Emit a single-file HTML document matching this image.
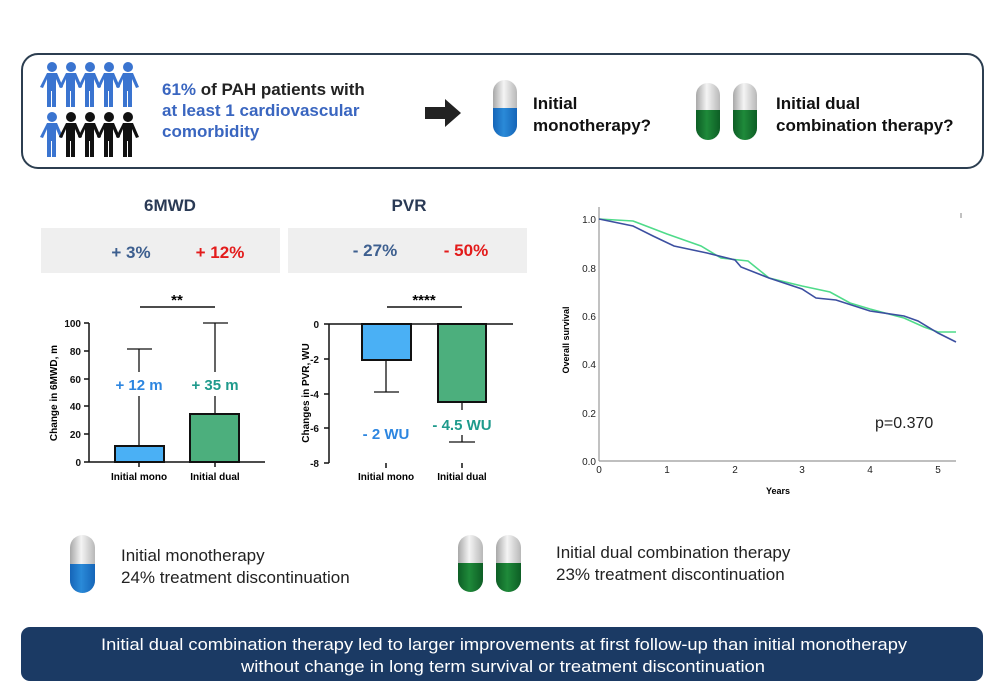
<!DOCTYPE html>
<html><head><meta charset="utf-8"><style>
html,body{margin:0;padding:0;background:#fff}
svg{display:block;font-family:"Liberation Sans",Arial,sans-serif}
</style></head><body>
<svg width="1000" height="695" viewBox="0 0 1000 695" xmlns="http://www.w3.org/2000/svg">
<defs>
<linearGradient id="gw" x1="0" x2="1"><stop offset="0" stop-color="#a8a8a8"/><stop offset="0.45" stop-color="#f4f4f4"/><stop offset="1" stop-color="#b8b8b8"/></linearGradient>
<linearGradient id="gb" x1="0" x2="1"><stop offset="0" stop-color="#1565b8"/><stop offset="0.45" stop-color="#2a8ad8"/><stop offset="1" stop-color="#1565b8"/></linearGradient>
<linearGradient id="gg" x1="0" x2="1"><stop offset="0" stop-color="#0d5e25"/><stop offset="0.45" stop-color="#1f8a3a"/><stop offset="1" stop-color="#0d5e25"/></linearGradient>
<g id="person"><circle cx="0" cy="0" r="5"/><path d="M-5,6 h10 l6,14 l-3,1 l-4,-9 v28 h-4 v-16 h-1 v16 h-4 v-28 l-4,9 l-3,-1 z"/></g>
</defs>
<!-- top box -->
<rect x="22" y="54" width="961" height="114" rx="16" fill="#fff" stroke="#2c3e50" stroke-width="2"/>
<g fill="#3a74d0">
<use href="#person" x="52" y="67"/><use href="#person" x="71" y="67"/><use href="#person" x="90" y="67"/><use href="#person" x="109" y="67"/><use href="#person" x="128" y="67"/>
<use href="#person" x="52" y="117"/>
</g>
<g fill="#111">
<use href="#person" x="71" y="117"/><use href="#person" x="90" y="117"/><use href="#person" x="109" y="117"/><use href="#person" x="128" y="117"/>
</g>
<g font-size="17" font-weight="bold">
<text x="162" y="95" fill="#3a66c0">61% <tspan fill="#222">of PAH patients with</tspan></text>
<text x="162" y="116" fill="#3a66c0">at least 1 cardiovascular</text>
<text x="162" y="137" fill="#3a66c0">comorbidity</text>
<text x="533" y="109" fill="#111">Initial</text>
<text x="533" y="131" fill="#111">monotherapy?</text>
<text x="776" y="109" fill="#111">Initial dual</text>
<text x="776" y="131" fill="#111">combination therapy?</text>
</g>
<path d="M425,107 h20 v-8 l16,14 l-16,14 v-8 h-20 z" fill="#222"/>
<!-- pills top -->
<g>
<rect x="493" y="80" width="24" height="57" rx="12" fill="url(#gw)"/><path d="M493,108 h24 v17 a12,12 0 0 1 -24,0 z" fill="url(#gb)"/>
<rect x="696" y="83" width="24" height="57" rx="12" fill="url(#gw)"/><path d="M696,110 h24 v18 a12,12 0 0 1 -24,0 z" fill="url(#gg)"/>
<rect x="733" y="83" width="24" height="57" rx="12" fill="url(#gw)"/><path d="M733,110 h24 v18 a12,12 0 0 1 -24,0 z" fill="url(#gg)"/>
</g>
<!-- headers -->
<text x="170" y="211" font-size="17" font-weight="bold" fill="#2a3a55" text-anchor="middle">6MWD</text>
<text x="409" y="211" font-size="17" font-weight="bold" fill="#2a3a55" text-anchor="middle">PVR</text>
<rect x="41" y="228" width="239" height="45" fill="#efefef"/>
<rect x="288" y="228" width="239" height="45" fill="#efefef"/>
<g font-size="17" font-weight="bold" text-anchor="middle">
<text x="131" y="258" fill="#3d5f8f">+ 3%</text><text x="220" y="258" fill="#e31b1b">+ 12%</text>
<text x="375" y="256" fill="#3d5f8f">- 27%</text><text x="466" y="256" fill="#e31b1b">- 50%</text>
</g>
<!-- chart 1 -->
<g stroke="#111" stroke-width="1.3" fill="none">
<line x1="139" y1="446" x2="139" y2="349"/><line x1="127" y1="349" x2="152" y2="349"/>
<line x1="215" y1="414" x2="215" y2="323"/><line x1="203" y1="323" x2="228" y2="323"/>
</g>
<rect x="115" y="446" width="49" height="16" fill="#4ab0f5" stroke="#111" stroke-width="2"/>
<rect x="190" y="414" width="49" height="48" fill="#4caf7d" stroke="#111" stroke-width="2"/>
<rect x="100" y="372" width="80" height="24" fill="#fff"/><rect x="180" y="372" width="75" height="24" fill="#fff"/>
<text x="139" y="390" font-size="15" font-weight="bold" fill="#2d86e0" text-anchor="middle">+ 12 m</text>
<text x="215" y="390" font-size="15" font-weight="bold" fill="#1f9a8c" text-anchor="middle">+ 35 m</text>
<g stroke="#111" stroke-width="1.5">
<line x1="89" y1="323" x2="89" y2="462"/><line x1="89" y1="462" x2="265" y2="462"/>
<line x1="84" y1="323" x2="89" y2="323"/><line x1="84" y1="351" x2="89" y2="351"/><line x1="84" y1="379" x2="89" y2="379"/><line x1="84" y1="406" x2="89" y2="406"/><line x1="84" y1="434" x2="89" y2="434"/><line x1="84" y1="462" x2="89" y2="462"/>
<line x1="139" y1="462" x2="139" y2="467"/><line x1="215" y1="462" x2="215" y2="467"/>
<line x1="140" y1="307" x2="215" y2="307"/>
</g>
<g font-size="10" font-weight="bold" fill="#111" text-anchor="end">
<text x="81" y="327">100</text><text x="81" y="355">80</text><text x="81" y="383">60</text><text x="81" y="410">40</text><text x="81" y="438">20</text><text x="81" y="466">0</text>
</g>
<text x="177" y="305" font-size="15" font-weight="bold" text-anchor="middle">**</text>
<g font-size="10" font-weight="bold" text-anchor="middle"><text x="139" y="480">Initial mono</text><text x="215" y="480">Initial dual</text></g>
<text transform="translate(57,393) rotate(-90)" font-size="10" font-weight="bold" text-anchor="middle">Change in 6MWD, m</text>
<!-- chart 2 -->
<g stroke="#111" stroke-width="1.3" fill="none">
<line x1="386" y1="360" x2="386" y2="392"/><line x1="374" y1="392" x2="399" y2="392"/>
<line x1="462" y1="402" x2="462" y2="410"/><line x1="462" y1="435" x2="462" y2="442"/><line x1="449" y1="442" x2="475" y2="442"/>
</g>
<rect x="362" y="324" width="49" height="36" fill="#4ab0f5" stroke="#111" stroke-width="2"/>
<rect x="438" y="324" width="48" height="78" fill="#4caf7d" stroke="#111" stroke-width="2"/>
<text x="386" y="439" font-size="15" font-weight="bold" fill="#2d86e0" text-anchor="middle">- 2 WU</text>
<text x="462" y="430" font-size="15" font-weight="bold" fill="#1f9a8c" text-anchor="middle">- 4.5 WU</text>
<g stroke="#111" stroke-width="1.5">
<line x1="329" y1="324" x2="329" y2="463"/><line x1="329" y1="324" x2="513" y2="324"/>
<line x1="324" y1="324" x2="329" y2="324"/><line x1="324" y1="359" x2="329" y2="359"/><line x1="324" y1="394" x2="329" y2="394"/><line x1="324" y1="428" x2="329" y2="428"/><line x1="324" y1="463" x2="329" y2="463"/>
<line x1="386" y1="463" x2="386" y2="468"/><line x1="462" y1="463" x2="462" y2="468"/>
<line x1="387" y1="307" x2="462" y2="307"/>
</g>
<g font-size="10" font-weight="bold" fill="#111" text-anchor="end">
<text x="319" y="328">0</text><text x="319" y="363">-2</text><text x="319" y="398">-4</text><text x="319" y="432">-6</text><text x="319" y="467">-8</text>
</g>
<text x="424" y="305" font-size="15" font-weight="bold" text-anchor="middle">****</text>
<g font-size="10" font-weight="bold" text-anchor="middle"><text x="386" y="480">Initial mono</text><text x="462" y="480">Initial dual</text></g>
<text transform="translate(309,393) rotate(-90)" font-size="10" font-weight="bold" text-anchor="middle">Changes in PVR, WU</text>
<!-- KM -->
<g stroke="#999" stroke-width="1.2">
<line x1="599" y1="207" x2="599" y2="461"/><line x1="599" y1="461" x2="956" y2="461"/>
<line x1="961" y1="213" x2="961" y2="218"/>
</g>
<g font-size="10" fill="#222" text-anchor="end">
<text x="596" y="223">1.0</text><text x="596" y="272">0.8</text><text x="596" y="320">0.6</text><text x="596" y="368">0.4</text><text x="596" y="417">0.2</text><text x="596" y="465">0.0</text>
</g>
<g font-size="10" fill="#222" text-anchor="middle">
<text x="599" y="473">0</text><text x="667" y="473">1</text><text x="735" y="473">2</text><text x="802" y="473">3</text><text x="870" y="473">4</text><text x="938" y="473">5</text>
</g>
<text x="778" y="494" font-size="9" font-weight="bold" text-anchor="middle">Years</text>
<text transform="translate(569,340) rotate(-90)" font-size="9" font-weight="bold" text-anchor="middle">Overall survival</text>
<text x="875" y="428" font-size="16" fill="#222">p=0.370</text>
<polyline fill="none" stroke="#4fdb8a" stroke-width="1.6" points="599,219 633,221 667,234 701,246 721,258 748,261 769,278 802,286 830,292 850,303 870,309 904,318 924,327 938,332 956,332"/>
<polyline fill="none" stroke="#3c4fa0" stroke-width="1.6" points="599,219 633,226 653,236 674,246 707,253 735,260 741,267 769,278 802,289 816,298 836,300 870,311 904,316 918,321 938,333 956,342"/>
<!-- legend bottom -->
<rect x="70" y="535" width="25" height="58" rx="12.5" fill="url(#gw)"/><path d="M70,564 h25 v16.5 a12.5,12.5 0 0 1 -25,0 z" fill="url(#gb)"/>
<rect x="458" y="535" width="25" height="57" rx="12.5" fill="url(#gw)"/><path d="M458,563 h25 v16.5 a12.5,12.5 0 0 1 -25,0 z" fill="url(#gg)"/>
<rect x="496" y="535" width="25" height="57" rx="12.5" fill="url(#gw)"/><path d="M496,563 h25 v16.5 a12.5,12.5 0 0 1 -25,0 z" fill="url(#gg)"/>
<g font-size="17" fill="#222">
<text x="121" y="561">Initial monotherapy</text><text x="121" y="583">24% treatment discontinuation</text>
<text x="556" y="558">Initial dual combination therapy</text><text x="556" y="580">23% treatment discontinuation</text>
</g>
<!-- banner -->
<rect x="21" y="627" width="962" height="54" rx="9" fill="#1b3a64"/>
<g font-size="17" fill="#fff" text-anchor="middle">
<text x="504" y="650" textLength="806" lengthAdjust="spacingAndGlyphs">Initial dual combination therapy led to larger improvements at first follow-up than initial monotherapy</text>
<text x="503" y="672" textLength="524" lengthAdjust="spacingAndGlyphs">without change in long term survival or treatment discontinuation</text>
</g>
</svg>
</body></html>
